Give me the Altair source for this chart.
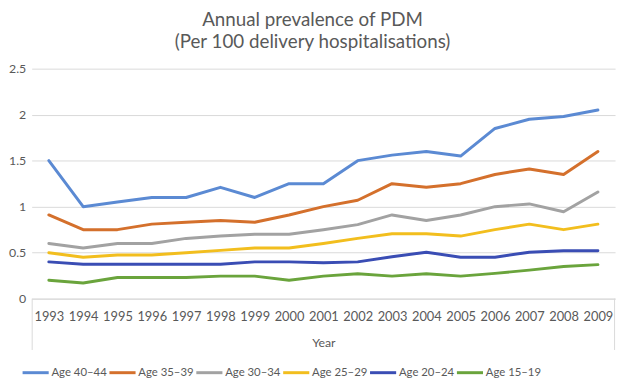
import altair as alt
import pandas as pd

years = [str(y) for y in range(1993, 2010)]
series_names = ["Age 40–44", "Age 35–39", "Age 30–34", "Age 25–29", "Age 20–24", "Age 15–19"]
colors = ["#5B8AD3", "#D4702C", "#A2A2A2", "#F2BE1E", "#3A4DB4", "#6AA43C"]

age_40_44 = [1.50, 1.00, 1.05, 1.10, 1.10, 1.21, 1.10, 1.25, 1.25, 1.50, 1.56, 1.60, 1.55, 1.85, 1.95, 1.98, 2.05]
age_35_39 = [0.91, 0.75, 0.75, 0.81, 0.83, 0.85, 0.83, 0.91, 1.00, 1.07, 1.25, 1.21, 1.25, 1.35, 1.41, 1.35, 1.60]
age_30_34 = [0.60, 0.55, 0.60, 0.60, 0.655, 0.68, 0.70, 0.70, 0.75, 0.805, 0.91, 0.85, 0.91, 1.00, 1.03, 0.945, 1.16]
age_25_29 = [0.50, 0.45, 0.475, 0.475, 0.50, 0.525, 0.55, 0.55, 0.60, 0.655, 0.705, 0.705, 0.68, 0.75, 0.81, 0.75, 0.81]
age_20_24 = [0.40, 0.375, 0.375, 0.375, 0.375, 0.375, 0.40, 0.40, 0.39, 0.40, 0.455, 0.505, 0.45, 0.45, 0.505, 0.52, 0.52]
age_15_19 = [0.20, 0.17, 0.23, 0.23, 0.23, 0.245, 0.245, 0.20, 0.245, 0.27, 0.245, 0.27, 0.245, 0.275, 0.31, 0.35, 0.37]

all_series = [age_40_44, age_35_39, age_30_34, age_25_29, age_20_24, age_15_19]
rows = []
for name, vals in zip(series_names, all_series):
    for yr, v in zip(years, vals):
        rows.append({"Year": yr, "Group": name, "Value": v})
df = pd.DataFrame(rows)

FONT = "Lato"
GRAY = "#595959"
GRID = "#D9D9D9"
W, H = 591, 233

lines = alt.Chart(df).mark_line(strokeWidth=3, strokeCap="round", strokeJoin="round").encode(
    x=alt.X("Year:O", sort=years,
            scale=alt.Scale(type="point", padding=0.5),
            axis=alt.Axis(title="Year", labelAngle=0, ticks=False, domain=True,
                          domainColor=GRID, domainWidth=1, grid=False,
                          labelColor=GRAY, labelFont=FONT, labelFontSize=13,
                          labelPadding=12, titleColor=GRAY, titleFont=FONT,
                          titleFontSize=12.5, titleFontWeight="normal", titlePadding=13)),
    y=alt.Y("Value:Q", scale=alt.Scale(domain=[0, 2.5], nice=False),
            axis=alt.Axis(title=None, values=[0, 0.5, 1, 1.5, 2, 2.5], format="~g",
                          ticks=False, domain=False, gridColor=GRID, gridWidth=1,
                          labelColor=GRAY, labelFont=FONT, labelFontSize=12.5,
                          labelPadding=6)),
    color=alt.Color("Group:N", sort=series_names,
                    scale=alt.Scale(domain=series_names, range=colors),
                    legend=alt.Legend(title=None, orient="none", direction="horizontal",
                                      legendX=-11, legendY=293, symbolType="stroke",
                                      symbolSize=700, symbolStrokeWidth=3,
                                      labelFont=FONT, labelFontSize=11.5, labelColor=GRAY,
                                      labelOffset=1, columnPadding=-11)),
    order=alt.Order("Year:O"),
)

one = pd.DataFrame({"k": [0]})
box_left = alt.Chart(one).mark_rule(color=GRID, strokeWidth=1).encode(
    x=alt.value(0.5), y=alt.value(H), y2=alt.value(H + 52)
)
box_right = alt.Chart(one).mark_rule(color=GRID, strokeWidth=1).encode(
    x=alt.value(W - 0.5), y=alt.value(H), y2=alt.value(H + 52)
)

chart = alt.layer(lines, box_left, box_right).properties(
    width=W,
    height=H,
    autosize=alt.AutoSizeParams(type="none"),
    padding={"left": 24, "top": 59, "right": 5, "bottom": 84},
    title=alt.TitleParams(
        text=["Annual prevalence of PDM", "(Per 100 delivery hospitalisations)"],
        font=FONT, fontSize=19, fontWeight="normal", color=GRAY,
        anchor="middle", dx=-11, offset=11, lineHeight=22,
    ),
).configure_view(stroke=None)

chart.save("out.html", embed_options={"renderer": "svg", "actions": False})
